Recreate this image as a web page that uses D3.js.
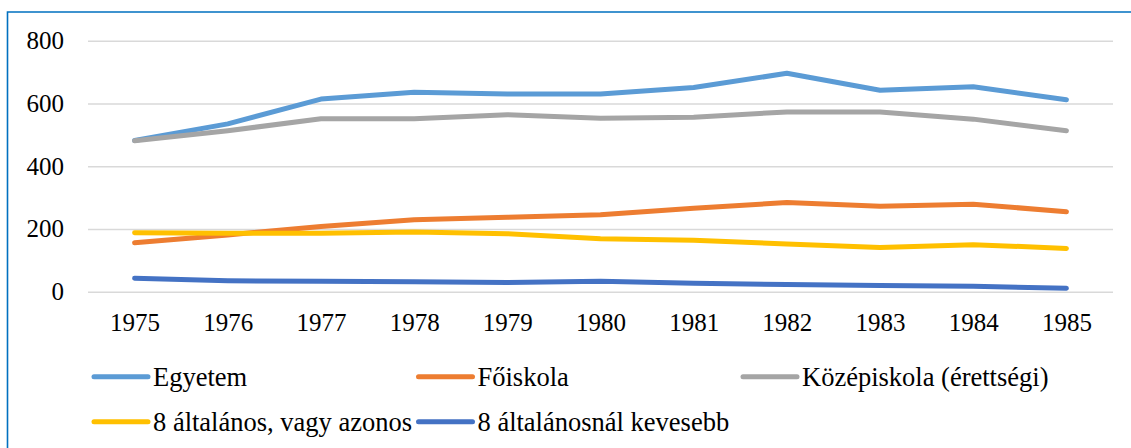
<!DOCTYPE html>
<html>
<head>
<meta charset="utf-8">
<script src="https://cdn.jsdelivr.net/npm/d3@7"></script>
<style>
  body { margin: 0; background: #fff; }
  svg text { font-family: "Liberation Serif", "Times New Roman", serif !important; fill: #000; }
</style>
</head>
<body>
<div id="chart"></div>
<script>
var years = ['1975', '1976', '1977', '1978', '1979', '1980', '1981', '1982', '1983', '1984', '1985'];
var yTicks = [0, 200, 400, 600, 800];
var seriesNames = ['Egyetem', 'Főiskola', 'Középiskola (érettségi)', '8 általános, vagy azonos', '8 általánosnál kevesebb'];
var seriesColors = ['#5B9BD5', '#ED7D31', '#A5A5A5', '#FFC000', '#4472C4'];
var egyetem = [482, 535, 614, 636, 630, 630, 651, 696, 642, 653, 612];
var foiskola = [156, 181, 208, 229, 237, 245, 266, 284, 272, 279, 255];
var kozepiskola = [481, 513, 551, 551, 564, 553, 556, 573, 573, 550, 513];
var altalanos = [188, 186, 186, 190, 185, 169, 164, 152, 141, 150, 138];
var kevesebb = [43, 35, 33, 32, 29, 33, 27, 23, 20, 17, 11];
var seriesValues = [egyetem, foiskola, kozepiskola, altalanos, kevesebb];

(function(d3) {
  'use strict';
  var width = 1131;
  var height = 448;
  var left = 88, right = 1113, top = 40.7, bottom = 291.7;
  var serif = '"Liberation Serif", "Times New Roman", serif';

  var svg = d3.select('#chart')
    .append('svg')
    .attr('width', width)
    .attr('height', height);

  // border of the chart area (only left and top are visible)
  svg.append('path')
    .attr('d', 'M7.5,' + height + 'V12H' + width)
    .attr('fill', 'none')
    .attr('stroke', '#0070C0')
    .attr('stroke-width', 1.6);

  var x = d3.scalePoint()
    .domain(years)
    .range([left, right])
    .padding(0.5);

  var y = d3.scaleLinear()
    .domain([0, 800])
    .range([bottom, top]);

  // gridlines + y labels
  var yAxis = d3.axisLeft(y)
    .tickValues(yTicks)
    .tickSize(-(right - left))
    .tickPadding(24);
  var gy = svg.append('g')
    .attr('transform', 'translate(' + left + ',0)')
    .call(yAxis);
  gy.select('.domain').remove();
  gy.selectAll('.tick line')
    .attr('stroke', '#D9D9D9')
    .attr('stroke-width', 1.4);
  gy.selectAll('.tick text')
    .style('font-family', serif)
    .style('font-size', '25px')
    .attr('fill', '#000');

  // x labels
  var xAxis = d3.axisBottom(x)
    .tickSize(0)
    .tickPadding(22);
  var gx = svg.append('g')
    .attr('transform', 'translate(0,' + bottom + ')')
    .call(xAxis);
  gx.select('.domain').remove();
  gx.selectAll('.tick text')
    .style('font-family', serif)
    .style('font-size', '25px')
    .attr('fill', '#000');

  var line = d3.line()
    .x(function(d, i) { return x(years[i]); })
    .y(function(d) { return y(d); });

  svg.selectAll('path.series')
    .data(seriesValues)
    .enter()
    .append('path')
      .attr('class', 'series')
      .attr('d', line)
      .attr('fill', 'none')
      .attr('stroke', function(d, i) { return seriesColors[i]; })
      .attr('stroke-width', 5)
      .attr('stroke-linecap', 'round')
      .attr('stroke-linejoin', 'round');

  // legend: 3 columns, 2 rows
  var colWidth = 324.5;
  var legend = svg.selectAll('g.legend')
    .data(seriesNames)
    .enter()
    .append('g')
      .attr('class', 'legend')
      .attr('transform', function(d, i) {
        return 'translate(' + (94 + (i % 3) * colWidth) + ',' + (376.7 + Math.floor(i / 3) * 45) + ')';
      });

  legend.append('line')
    .attr('x1', 0)
    .attr('x2', 54)
    .attr('stroke', function(d, i) { return seriesColors[i]; })
    .attr('stroke-width', 5)
    .attr('stroke-linecap', 'round');

  legend.append('text')
    .attr('x', 59)
    .attr('y', 9)
    .style('font-size', '26.5px')
    .text(function(d) { return d; });

})(window.d3);
</script>
</body>
</html>
